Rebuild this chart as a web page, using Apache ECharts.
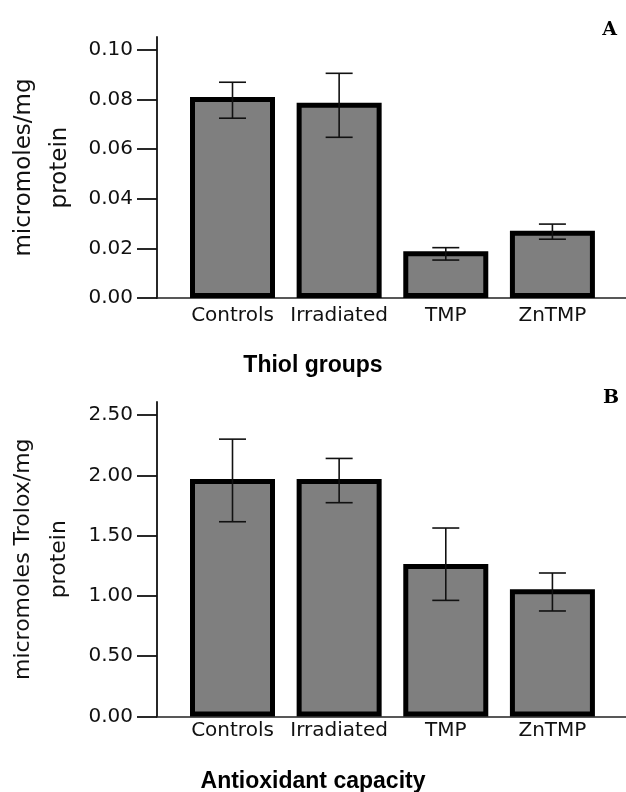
<!DOCTYPE html>
<html>
<head>
<meta charset="utf-8">
<script src="https://cdn.jsdelivr.net/npm/echarts@6/dist/echarts.min.js"></script>
<style>html,body{margin:0;padding:0;background:#fff;}#c{width:626px;height:792px;}</style>
</head>
<body>
<div id="c"></div>
<script>
const categories = ['Controls', 'Irradiated', 'TMP', 'ZnTMP'];
const thiolMean = [0.081, 0.0787, 0.0189, 0.0271];
const thiolLow  = [0.0725, 0.0648, 0.0153, 0.0237];
const thiolHigh = [0.087, 0.0906, 0.0203, 0.0298];
const antiMean = [1.97, 1.97, 1.265, 1.055];
const antiLow  = [1.615, 1.773, 0.963, 0.875];
const antiHigh = [2.30, 2.14, 1.563, 1.19];
const thiolTicks = [0, 0.02, 0.04, 0.06, 0.08, 0.10];
const antiTicks = [0, 0.5, 1.0, 1.5, 2.0, 2.5];
const catPositions = [0, 1, 2, 3];

const chart = echarts.init(document.getElementById('c'), null, {renderer: 'canvas'});
const FONT = 'DejaVu Sans';

function barData(means) { return means.map((v, i) => [catPositions[i], v]); }
function errData(lo, hi) { return lo.map((v, i) => [catPositions[i], v, hi[i]]); }

function errRender(params, api) {
  const x = api.value(0), lo = api.value(1), hi = api.value(2);
  const pLo = api.coord([x, lo]), pHi = api.coord([x, hi]);
  const hw = 13.5;
  const style = {stroke: '#111', lineWidth: 1.6};
  return {type: 'group', children: [
    {type: 'line', shape: {x1: pLo[0], y1: pLo[1], x2: pHi[0], y2: pHi[1]}, style: style},
    {type: 'line', shape: {x1: pHi[0] - hw, y1: pHi[1], x2: pHi[0] + hw, y2: pHi[1]}, style: style},
    {type: 'line', shape: {x1: pLo[0] - hw, y1: pLo[1], x2: pLo[0] + hw, y2: pLo[1]}, style: style}
  ]};
}

function xAxisCfg(idx, margin) {
  return {
    type: 'value', gridIndex: idx, min: -0.708, max: 3.69,
    axisLine: {show: true, onZero: false, lineStyle: {color: '#222', width: 1.5}},
    axisTick: {show: false},
    splitLine: {show: false},
    axisLabel: {
      show: true, customValues: catPositions, margin: margin,
      formatter: v => categories[Math.round(v)] || '',
      fontFamily: FONT, fontSize: 20, color: '#111'
    }
  };
}

function yAxisCfg(idx, max, ticks, name, nameSize, gap) {
  return {
    type: 'value', gridIndex: idx, min: 0, max: max,
    axisLine: {show: true, onZero: false, lineStyle: {color: '#111', width: 1.8}},
    axisTick: {show: true, customValues: ticks, length: 20, inside: false, lineStyle: {color: '#111', width: 1.8}},
    splitLine: {show: false},
    axisLabel: {
      show: true, customValues: ticks, margin: 24,
      formatter: v => v.toFixed(2),
      fontFamily: FONT, fontSize: 20, color: '#111'
    },
    name: name, nameLocation: 'middle', nameRotate: 90, nameGap: gap,
    nameTextStyle: {fontFamily: FONT, fontSize: nameSize, lineHeight: 36, color: '#111', align: 'center'}
  };
}

const barStyle = {color: '#7f7f7f', borderColor: '#000', borderWidth: 5};

chart.setOption({
  animation: false,
  backgroundColor: '#fff',
  title: [
    {text: 'Thiol groups', left: 'center', top: 349, textStyle: {fontFamily: 'Liberation Sans', fontWeight: 'bold', fontSize: 23, color: '#000'}},
    {text: 'Antioxidant capacity', left: 'center', top: 765, textStyle: {fontFamily: 'Liberation Sans', fontWeight: 'bold', fontSize: 23, color: '#000'}},
    {text: 'A', right: 4, top: 16, textStyle: {fontFamily: 'DejaVu Serif', fontWeight: 'bold', fontSize: 19, color: '#000'}},
    {text: 'B', right: 2, top: 384, textStyle: {fontFamily: 'DejaVu Serif', fontWeight: 'bold', fontSize: 19, color: '#000'}}
  ],
  grid: [
    {left: 157, right: 0, top: 37, height: 261, containLabel: false, outerBoundsMode: 'none'},
    {left: 157, right: 0, top: 402, height: 314.5, containLabel: false, outerBoundsMode: 'none'}
  ],
  xAxis: [xAxisCfg(0, 8), xAxisCfg(1, 4)],
  yAxis: [
    yAxisCfg(0, 0.10524, thiolTicks, 'micromoles/mg\nprotein', 23, 78),
    yAxisCfg(1, 2.608, antiTicks, 'micromoles Trolox/mg\nprotein', 22, 78)
  ],
  series: [
    {type: 'bar', xAxisIndex: 0, yAxisIndex: 0, barWidth: 85, data: barData(thiolMean), itemStyle: barStyle},
    {type: 'custom', xAxisIndex: 0, yAxisIndex: 0, renderItem: errRender, encode: {x: 0, y: [1, 2]}, data: errData(thiolLow, thiolHigh), z: 5},
    {type: 'bar', xAxisIndex: 1, yAxisIndex: 1, barWidth: 85, data: barData(antiMean), itemStyle: barStyle},
    {type: 'custom', xAxisIndex: 1, yAxisIndex: 1, renderItem: errRender, encode: {x: 0, y: [1, 2]}, data: errData(antiLow, antiHigh), z: 5}
  ]
});
</script>
</body>
</html>
